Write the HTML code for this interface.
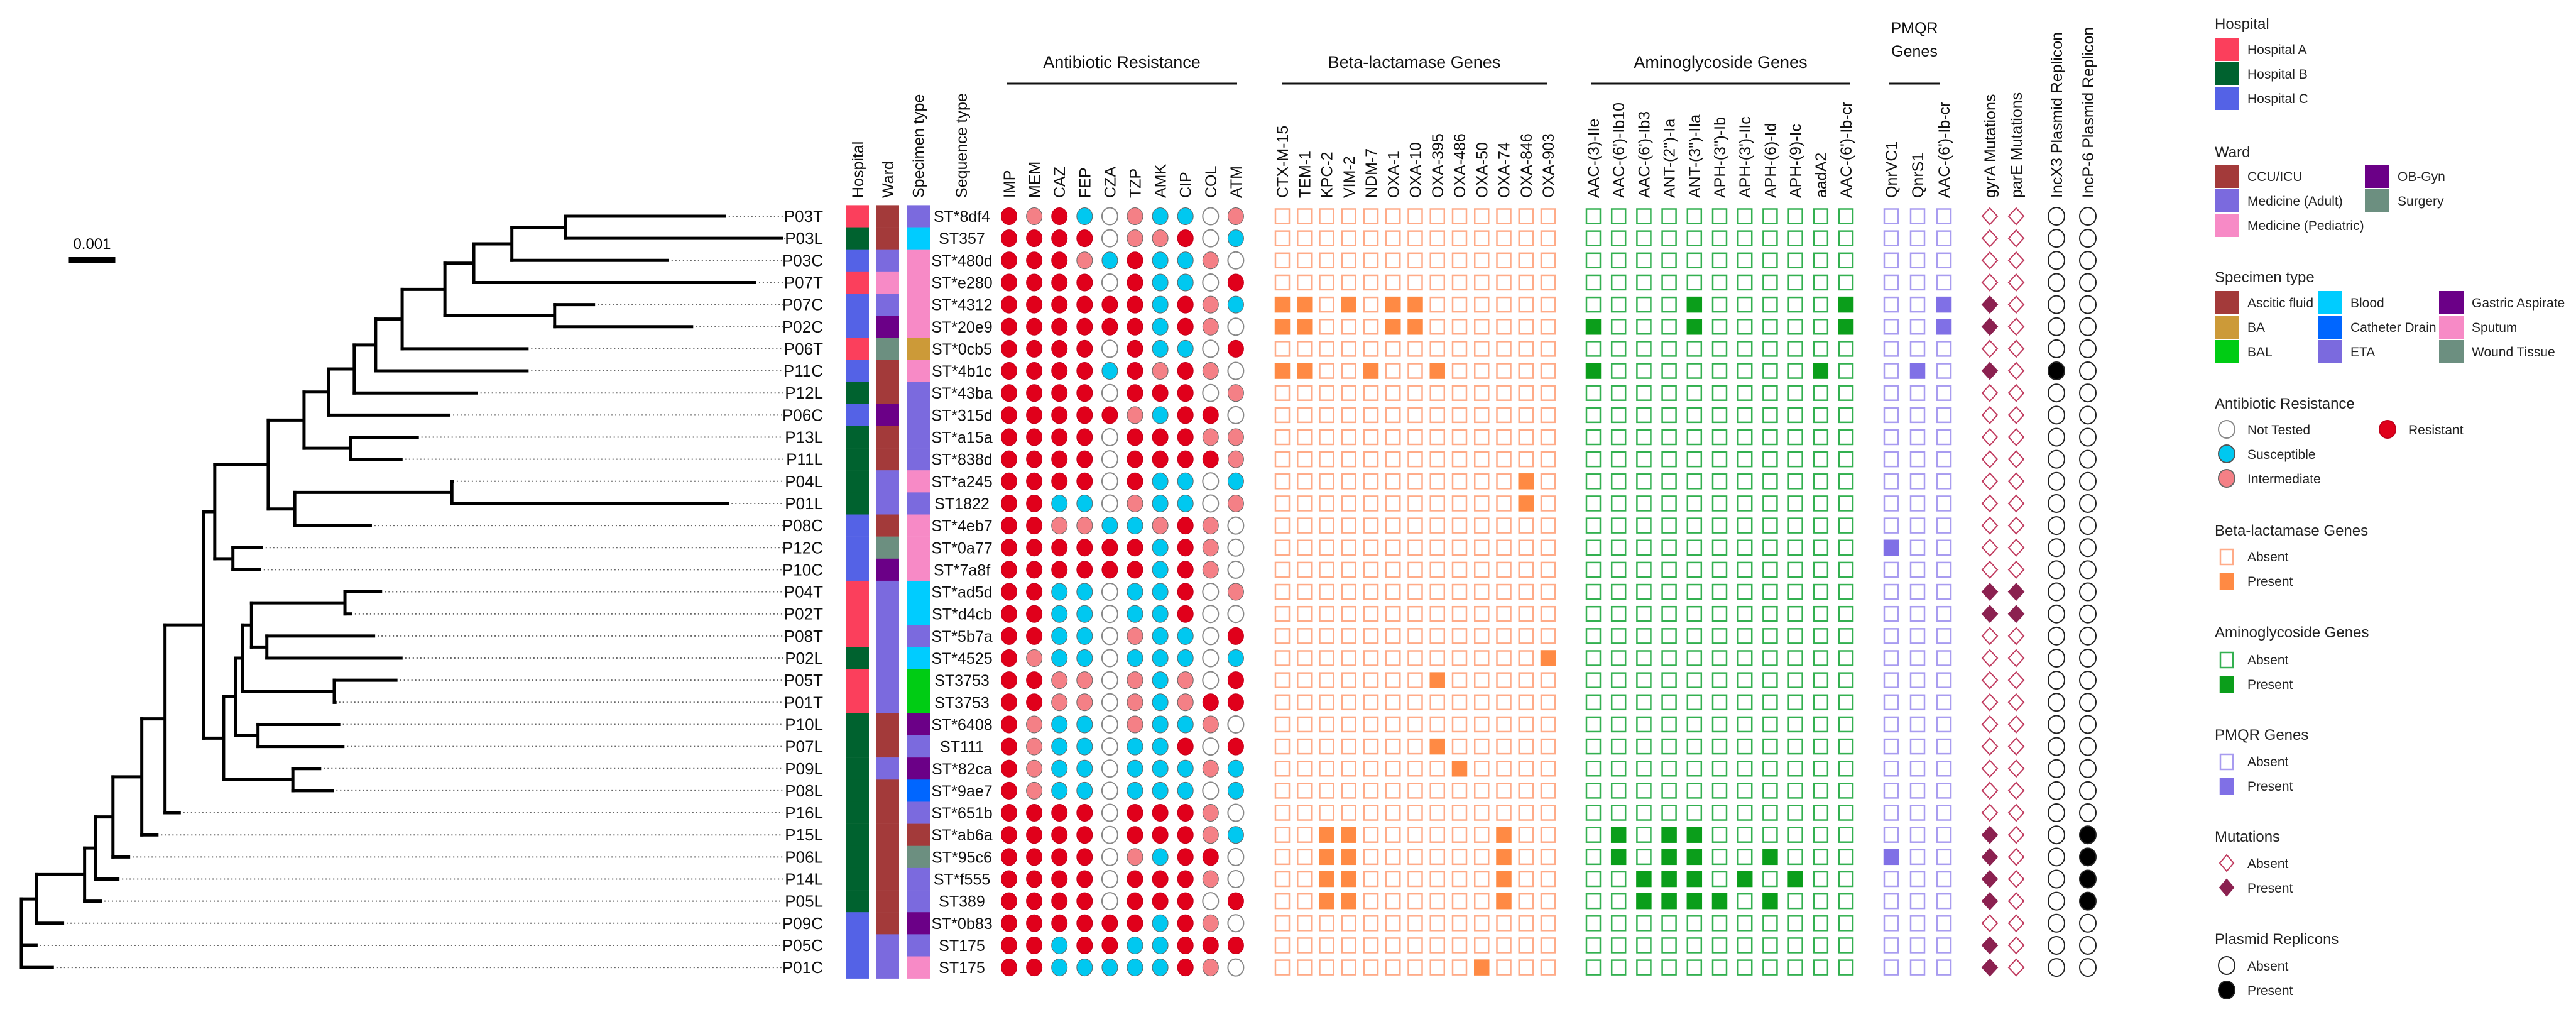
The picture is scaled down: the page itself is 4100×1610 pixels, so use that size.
<!DOCTYPE html>
<html><head><meta charset="utf-8"><style>
html,body{margin:0;padding:0;background:#fff;}
svg{display:block;font-family:"Liberation Sans",Arial,sans-serif;}
</style></head><body>
<svg id="fig" width="4100" height="1610" viewBox="0 0 4100 1610" xmlns="http://www.w3.org/2000/svg">
<g id="tree"></g>
<g id="matrix"></g>
<g id="legend"></g>
</svg>
<script>
// ---------- data ----------
const leaves = ["P03T","P03L","P03C","P07T","P07C","P02C","P06T","P11C","P12L","P06C","P13L","P11L","P04L","P01L","P08C","P12C","P10C","P04T","P02T","P08T","P02L","P05T","P01T","P10L","P07L","P09L","P08L","P16L","P15L","P06L","P14L","P05L","P09C","P05C","P01C"];
const hospital = "ABCACCACBCBBBBCCCAAABAABBBBBBBBBCCC".split("");
// ward: C=CCU/ICU, M=Medicine(Adult), P=Medicine(Pediatric), O=OB-Gyn, S=Surgery
const ward = "CCMPMOSCCOCCMMCSOMMMMMMCCMCCCCCCCMM".split("");
// specimen: A=Ascitic, B=BA, L=BAL, D=Blood, K=Catheter, E=ETA, G=Gastric, S=Sputum, W=Wound
const specimen = "EDSSSSBSEEEESESSSDDEDLLGEGKEAWEEGES".split("");
const seqType = ["ST*8df4","ST357","ST*480d","ST*e280","ST*4312","ST*20e9","ST*0cb5","ST*4b1c","ST*43ba","ST*315d","ST*a15a","ST*838d","ST*a245","ST1822","ST*4eb7","ST*0a77","ST*7a8f","ST*ad5d","ST*d4cb","ST*5b7a","ST*4525","ST3753","ST3753","ST*6408","ST111","ST*82ca","ST*9ae7","ST*651b","ST*ab6a","ST*95c6","ST*f555","ST389","ST*0b83","ST175","ST175"];
const abNames = ["IMP","MEM","CAZ","FEP","CZA","TZP","AMK","CIP","COL","ATM"];
// R resistant, S susceptible, I intermediate, N not tested
const abValues = ["RIRSNISSNI","RRRRNIIRNS","RRRISRSSIN","RRRRNRSSNR","RRRRRRSRIS","RRRRRRSRIN","RRRRNRSSNR","RRRRSRIRIN","RRRRNRRRNI","RRRRRISRRN","RRRRNRRRII","RRRRNRRRRI","RRRRNRSSNS","RRSSNISSNI","RRIISSIRIN","RRRRRRSRIN","RRRRRRSRIN","RRSSNSSRNI","RRSSNSSRNN","RRSSNISSNR","RISSNSSSNS","RRIINISINR","RRIINISIRR","RISSNISSIN","RISSNSSRNR","RISSNSSSIS","RISSNSSSNS","RRRRNRRRIN","RRRRNRRRIS","RRRRNISRRN","RRRRNRRRIN","RRRRNRRRNR","RRRRRRSRIN","RRSRRSSRRR","RRSSSSSRIN"];
const betaNames = ["CTX-M-15","TEM-1","KPC-2","VIM-2","NDM-7","OXA-1","OXA-10","OXA-395","OXA-486","OXA-50","OXA-74","OXA-846","OXA-903"];
const betaValues = ["0000000000000","0000000000000","0000000000000","0000000000000","1101011000000","1100011000000","0000000000000","1100100100000","0000000000000","0000000000000","0000000000000","0000000000000","0000000000010","0000000000010","0000000000000","0000000000000","0000000000000","0000000000000","0000000000000","0000000000000","0000000000001","0000000100000","0000000000000","0000000000000","0000000100000","0000000010000","0000000000000","0000000000000","0011000000100","0011000000100","0011000000100","0011000000100","0000000000000","0000000000000","0000000001000"];
const aminoNames = ["AAC-(3)-IIe","AAC-(6')-Ib10","AAC-(6')-Ib3","ANT-(2'')-Ia","ANT-(3'')-IIa","APH-(3'')-Ib","APH-(3')-IIc","APH-(6)-Id","APH-(9)-Ic","aadA2","AAC-(6')-Ib-cr"];
const aminoValues = ["00000000000","00000000000","00000000000","00000000000","00001000001","10001000001","00000000000","10000000010","00000000000","00000000000","00000000000","00000000000","00000000000","00000000000","00000000000","00000000000","00000000000","00000000000","00000000000","00000000000","00000000000","00000000000","00000000000","00000000000","00000000000","00000000000","00000000000","00000000000","01011000000","01011001000","00111010100","00111101000","00000000000","00000000000","00000000000"];
const pmqrNames = ["QnrVC1","QnrS1","AAC-(6')-Ib-cr"];
const pmqrValues = ["000","000","000","000","001","001","000","010","000","000","000","000","000","000","000","100","000","000","000","000","000","000","000","000","000","000","000","000","000","100","000","000","000","000","000"];
const mutNames = ["gyrA Mutations","parE Mutations"];
const gyrA = "00001101000000000110000000001111011".split("");
const parE = "00000000000000000110000000000000000".split("");
const plasNames = ["IncX3 Plasmid Replicon","IncP-6 Plasmid Replicon"];
const incX3 = "00000001000000000000000000000000000".split("");
const incP6 = "00000000000000000000000000001111000".split("");
// tree: node depths in units of 1e-4 substitutions/site
function N(d,...c){return {d:d,c:c};}
function L(n,d){return {d:d,name:n};}
const treeData =
N(0,
 N(3.2,
  N(13.6,
   N(15.9,
    N(19.7,
     N(25.9,
      N(30.9,
       N(39.2,
        N(41.6,
         N(53.1,
          N(60.8,
           N(66.1,
            N(71.6,
             N(76.2,
              N(81.9,
               N(91.1,
                N(97.3,
                 N(105.5, N(117.0, L("P03T",151.6), L("P03L",163.8)), L("P03C",139.3)),
                 L("P07T",158.1)),
                N(114.7, L("P07C",123.4), L("P02C",144.5))),
               L("P06T",109.1)),
              L("P11C",109.1)),
             L("P12L",98.2)),
            L("P06C",92.3)),
           N(70.8, L("P13L",85.5), L("P11L",82.0))),
          N(58.8, N(92.6, L("P04L",93.1), L("P01L",152.2)), L("P08C",75.4))),
         N(45.5, L("P12C",52.0), L("P10C",51.6))),
        N(43.5,
         N(46.1,
          N(47.6,
           N(49.5, N(69.6, L("P04T",77.6), L("P02T",71.2)), N(52.8, L("P08T",76.1), L("P02L",82.0))),
           N(67.3, L("P05T",80.9), L("P01T",67.8))),
          N(50.9, L("P10L",68.6), L("P07L",69.5))),
         N(58.4, L("P09L",64.5), L("P08L",67.2)))),
       L("P16L",34.3)),
      L("P15L",29.5)),
     L("P06L",23.4)),
    L("P14L",21.1)),
   L("P05L",17.3)),
  L("P09C",9.2)),
 L("P05C",3.5), L("P01C",7.0));

// ---------- scales ----------
const NS="http://www.w3.org/2000/svg";
const rowY = i => 344 + i*35.15;
const treeX = d => 34 + d*7.4;
function mk(tag, attrs, parent, text){
  const e=document.createElementNS(NS,tag);
  for(const k in attrs) e.setAttribute(k,attrs[k]);
  if(text!==undefined) e.textContent=text;
  parent.appendChild(e); return e;
}
const colors = {
  hosp:{A:"#fb3f5c",B:"#00622f",C:"#5462e6"},
  ward:{C:"#a33a3a",M:"#7b6ade",P:"#f78ac6",O:"#6b0087",S:"#6c8f80"},
  spec:{A:"#a33a3a",B:"#cc9a38",L:"#00cc14",D:"#00ccff",K:"#0066ff",E:"#7b6ade",G:"#6b0087",S:"#f78ac6",W:"#6c8f80"},
  ab:{R:"#e0001b",S:"#00c8f0",I:"#f48086",N:"#ffffff"}
};

// ---------- tree ----------
const tree=document.getElementById('tree');
let leafIdx=0;
function layout(n){
  if(n.name){ n.y=rowY(leafIdx++); return; }
  n.c.forEach(layout);
  n.y=(n.c[0].y+n.c[n.c.length-1].y)/2;
}
layout(treeData);
function draw(n, parentD){
  const x=treeX(n.d);
  if(parentD!==null){
    const h=mk('line',{x1:treeX(parentD)-2.5,y1:n.y,x2:x,y2:n.y,stroke:'#000','stroke-width':5},tree);
    
    
  }
  if(n.name){
    const ld=mk('line',{x1:x+4,y1:n.y,x2:1246,y2:n.y,stroke:'#666','stroke-width':2,'stroke-dasharray':'2 4'},tree);
    
    
    const t=mk('text',{x:1310,y:n.y+9,'font-size':26,'text-anchor':'end',fill:'#111'},tree,n.name);
    
    
    return;
  }
  const v=mk('line',{x1:x,y1:n.c[0].y-2.5,x2:x,y2:n.c[n.c.length-1].y+2.5,stroke:'#000','stroke-width':5},tree);
  
  
  n.c.forEach(ch=>draw(ch,n.d));
}
draw(treeData,null);
// scale bar (0.001 = 10 units)
const sb=mk('rect',{x:treeX(10.2),y:409,width:treeX(10)-treeX(0),height:9,fill:'#000'},tree);


const sbt=mk('text',{x:treeX(10.2)+37,y:396,'font-size':24,'text-anchor':'middle'},tree,'0.001');



// ---------- matrix ----------
const mx=document.getElementById('matrix');
function vlabel(x,text,name,top){
  const t=mk('text',{transform:`translate(${x+9},${top?top:315}) rotate(-90)`,'font-size':25,'text-anchor':top?'end':'start',fill:'#111'},mx,text);
  
  
}
function group(title,x1,x2,name){
  const t=mk('text',{x:(x1+x2)/2,y:108,'font-size':27,'text-anchor':'middle',fill:'#111'},mx,title);
  
  
  const l=mk('line',{x1:x1,y1:133,x2:x2,y2:133,stroke:'#111','stroke-width':3},mx);
  
  
}
const barCols=[[1347,36,hospital,colors.hosp,'hospital'],[1395,36,ward,colors.ward,'ward'],[1443,37,specimen,colors.spec,'specimen']];
const barLabels=["Hospital","Ward","Specimen type"];
barCols.forEach((bc,k)=>{
  vlabel(bc[0]+bc[1]/2,barLabels[k],bc[4]+'-column-label');
  bc[2].forEach((v,i)=>{
    const r=mk('rect',{x:bc[0],y:rowY(i)-17.6,width:bc[1],height:35.4,fill:bc[3][v]},mx);
    
    
  });
});
vlabel(1530,"Sequence type",'sequence-type-column-label');
seqType.forEach((s,i)=>{
  const t=mk('text',{x:1531,y:rowY(i)+9,'font-size':25,'text-anchor':'middle',fill:'#111'},mx,s);
  
  
});
// antibiotic
const abX=j=>1606+j*40.1;
group("Antibiotic Resistance",1602,1969,'antibiotic');
abNames.forEach((n,j)=>vlabel(abX(j),n,'antibiotic-label-'+n.toLowerCase()));
abValues.forEach((row,i)=>row.split("").forEach((v,j)=>{
  const c=mk('ellipse',{cx:abX(j),cy:rowY(i),rx:12.5,ry:13.5,fill:colors.ab[v],stroke:v==='N'?'#888':(v==='R'?'#c0001a':'#666'),'stroke-width':v==='N'?2:1},mx);
  
  
}));
// square blocks
function squares(names,values,x0,step,fillC,strokeC,name){
  names.forEach((n,j)=>vlabel(x0+step*j,n,name+'-label-'+j));
  values.forEach((row,i)=>row.split("").forEach((v,j)=>{
    const r=mk('rect',{x:x0+step*j-11,y:rowY(i)-11.5,width:22,height:23,fill:v==='1'?fillC:'#fff',stroke:v==='1'?fillC:strokeC,'stroke-width':2.5},mx);
    
    
  }));
}
group("Beta-lactamase Genes",2040,2462,'beta-lactamase');
squares(betaNames,betaValues,2041,35.25,'#ff8a44','#ffab88','beta-lactamase');
group("Aminoglycoside Genes",2533,2944,'aminoglycoside');
squares(aminoNames,aminoValues,2536,40.2,'#0b9e1b','#33b050','aminoglycoside');
// PMQR
const pt1=mk('text',{x:3047,y:53,'font-size':25,'text-anchor':'middle',fill:'#111'},mx,'PMQR');


const pt2=mk('text',{x:3047,y:90,'font-size':25,'text-anchor':'middle',fill:'#111'},mx,'Genes');


const pl=mk('line',{x1:3007,y1:133,x2:3087,y2:133,stroke:'#111','stroke-width':3},mx);


squares(pmqrNames,pmqrValues,3010,42,'#8070e6','#a89cf0','pmqr');
// mutations
const mutX=[3167,3209];
[gyrA,parE].forEach((arr,k)=>{
  vlabel(mutX[k],mutNames[k],'mutation-label-'+k);
  arr.forEach((v,i)=>{
    const x=mutX[k],y=rowY(i);
    const p=mk('polygon',{points:`${x},${y-13} ${x+12},${y} ${x},${y+13} ${x-12},${y}`,fill:v==='1'?'#8b2150':'#fff',stroke:v==='1'?'#8b2150':'#c03a5e','stroke-width':2},mx);
    
    
  });
});
// plasmids
const plasX=[3273,3323];
[incX3,incP6].forEach((arr,k)=>{
  vlabel(plasX[k],plasNames[k],'plasmid-label-'+k);
  arr.forEach((v,i)=>{
    const c=mk('ellipse',{cx:plasX[k],cy:rowY(i),rx:13,ry:14,fill:v==='1'?'#000':'#fff',stroke:'#222','stroke-width':2},mx);
    
    
  });
});

// ---------- legend ----------
const lg=document.getElementById('legend');
function ltitle(y,t){const e=mk('text',{x:3525,y:y,'font-size':24,fill:'#222'},lg,t);
  
  }
function lentry(x,y,shape,fill,stroke,label){
  let s;
  if(shape==='rect') s=mk('rect',{x:x,y:y,width:39,height:37,fill:fill},lg);
  else if(shape==='sq') s=mk('rect',{x:x+9,y:y+7,width:20,height:24,fill:fill,stroke:stroke,'stroke-width':2.5},lg);
  else if(shape==='circ') s=mk('ellipse',{cx:x+19,cy:y+18,rx:13,ry:14,fill:fill,stroke:stroke,'stroke-width':2},lg);
  else s=mk('polygon',{points:`${x+19},${y+5} ${x+30},${y+18} ${x+19},${y+31} ${x+8},${y+18}`,fill:fill,stroke:stroke,'stroke-width':2},lg);
  
  
  const t=mk('text',{x:x+52,y:y+26,'font-size':21,fill:'#222'},lg,label);
  
  
}
ltitle(46,'Hospital');
lentry(3525,60,'rect',colors.hosp.A,'','Hospital A');
lentry(3525,99,'rect',colors.hosp.B,'','Hospital B');
lentry(3525,138,'rect',colors.hosp.C,'','Hospital C');
ltitle(250,'Ward');
lentry(3525,262,'rect',colors.ward.C,'','CCU/ICU');
lentry(3525,301,'rect',colors.ward.M,'','Medicine (Adult)');
lentry(3525,340,'rect',colors.ward.P,'','Medicine (Pediatric)');
lentry(3764,262,'rect',colors.ward.O,'','OB-Gyn');
lentry(3764,301,'rect',colors.ward.S,'','Surgery');
ltitle(449,'Specimen type');
lentry(3525,463,'rect',colors.spec.A,'','Ascitic fluid');
lentry(3525,502,'rect',colors.spec.B,'','BA');
lentry(3525,541,'rect',colors.spec.L,'','BAL');
lentry(3689,463,'rect',colors.spec.D,'','Blood');
lentry(3689,502,'rect',colors.spec.K,'','Catheter Drain');
lentry(3689,541,'rect',colors.spec.E,'','ETA');
lentry(3882,463,'rect',colors.spec.G,'','Gastric Aspirate');
lentry(3882,502,'rect',colors.spec.S,'','Sputum');
lentry(3882,541,'rect',colors.spec.W,'','Wound Tissue');
ltitle(650,'Antibiotic Resistance');
lentry(3525,665,'circ','#fff','#888','Not Tested');
lentry(3525,704,'circ',colors.ab.S,'#555','Susceptible');
lentry(3525,743,'circ',colors.ab.I,'#666','Intermediate');
lentry(3781,665,'circ',colors.ab.R,'#c0001a','Resistant');
ltitle(852,'Beta-lactamase Genes');
lentry(3525,867,'sq','#fff','#ffab88','Absent');
lentry(3525,906,'sq','#ff8a44','#ff8a44','Present');
ltitle(1014,'Aminoglycoside Genes');
lentry(3525,1031,'sq','#fff','#33b050','Absent');
lentry(3525,1070,'sq','#0b9e1b','#0b9e1b','Present');
ltitle(1177,'PMQR Genes');
lentry(3525,1193,'sq','#fff','#a89cf0','Absent');
lentry(3525,1232,'sq','#8070e6','#8070e6','Present');
ltitle(1339,'Mutations');
lentry(3525,1355,'dia','#fff','#c03a5e','Absent');
lentry(3525,1394,'dia','#8b2150','#8b2150','Present');
ltitle(1502,'Plasmid Replicons');
lentry(3525,1518,'circ','#fff','#222','Absent');
lentry(3525,1557,'circ','#000','#222','Present');
</script>
</body></html>
